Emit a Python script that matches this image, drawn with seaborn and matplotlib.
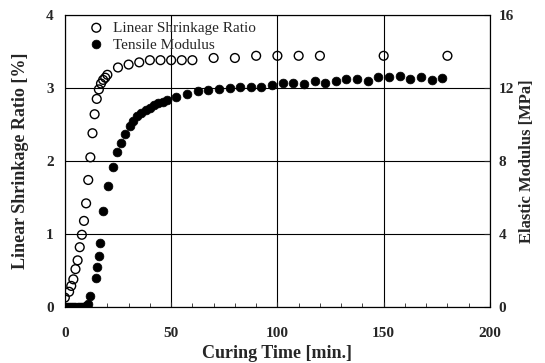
import matplotlib.pyplot as plt
import seaborn as sns
import numpy as np
import pandas as pd
from matplotlib.ticker import MultipleLocator

# linear shrinkage ratio [%] (left axis)
shrink_time = [0, 2, 3, 4, 5, 6, 7, 8, 9, 10, 11, 12, 13, 14, 15, 16, 17, 18, 19, 20,
               25, 30, 35, 40, 45, 50, 55, 60, 70, 80, 90, 100, 110, 120, 150, 180]
shrink_ratio = [0.13, 0.21, 0.29, 0.38, 0.52, 0.64, 0.82, 0.99, 1.18, 1.42, 1.74, 2.05,
                2.38, 2.64, 2.85, 2.98, 3.06, 3.11, 3.14, 3.18,
                3.28, 3.32, 3.35, 3.38, 3.38, 3.38, 3.38, 3.38, 3.41, 3.41, 3.44, 3.44,
                3.44, 3.44, 3.44, 3.44]

# tensile modulus [MPa] (right axis)
mod_time = [0, 1, 2, 3, 4, 5, 6, 7, 8, 9, 10, 11, 12,
            14.5, 15, 16, 16.5, 18, 20.5, 22.5, 24.5, 26.5, 28.5, 30.5, 32, 34, 36, 38,
            40, 42, 44, 46, 48,
            52.5, 57.5, 62.5, 67.5, 72.5, 77.5, 82.5, 87.5, 92.5, 97.5, 102.5, 107.5,
            112.5, 117.5, 122.5, 127.5, 132.5, 137.5, 142.5, 147.5, 152.5, 157.5,
            162.5, 167.5, 172.5, 177.5]
mod_value = [0, 0, 0, 0, 0, 0, 0, 0, 0, 0.02, 0.05, 0.15, 0.6,
             1.6, 2.2, 2.8, 3.5, 5.26, 6.63, 7.69, 8.5, 9.0, 9.5, 9.9, 10.2, 10.47,
             10.65, 10.8, 10.9, 11.05, 11.16, 11.25, 11.34,
             11.52, 11.65, 11.85, 11.9, 11.95, 11.98, 12.04, 12.04, 12.04, 12.16,
             12.29, 12.29, 12.2, 12.4, 12.26, 12.38, 12.48, 12.48, 12.4, 12.62,
             12.59, 12.67, 12.48, 12.62, 12.44, 12.56]

df_s = pd.DataFrame({"t": shrink_time, "v": shrink_ratio})
df_m = pd.DataFrame({"t": mod_time, "v": mod_value})

sns.set_style("ticks")
plt.rcParams["font.family"] = ["Liberation Serif", "DejaVu Serif"]

fig = plt.figure(figsize=(5.45, 3.63), dpi=100)
ax = fig.add_axes([0.119, 0.154, 0.780, 0.805])
ax2 = ax.twinx()

sns.scatterplot(data=df_s, x="t", y="v", ax=ax, s=40, marker="o",
                facecolor="none", edgecolor="black", linewidth=1.0,
                label="Linear Shrinkage Ratio", legend=False, zorder=3)
sns.scatterplot(data=df_m, x="t", y="v", ax=ax2, s=40, marker="o",
                color="black", edgecolor="black", linewidth=0.5,
                label="Tensile Modulus", legend=False, zorder=3)

ax.set_xlim(0, 200)
ax.set_ylim(0, 4)
ax2.set_ylim(0, 16)
ax.xaxis.set_major_locator(MultipleLocator(50))
ax.xaxis.set_minor_locator(MultipleLocator(10))
ax.yaxis.set_major_locator(MultipleLocator(1))
ax2.yaxis.set_major_locator(MultipleLocator(4))

# grid lines
ax.grid(True, which="major", color="black", linewidth=0.8)
ax.set_axisbelow(True)

for a in (ax, ax2):
    a.tick_params(direction="in", which="both", labelsize=11, pad=8)
    for sp in a.spines.values():
        sp.set_linewidth(0.8)
        sp.set_color("black")
    for lab in a.get_xticklabels() + a.get_yticklabels():
        lab.set_fontweight("bold")
ax.tick_params(axis="x", pad=14)
ax.tick_params(which="minor", length=3)
ax.tick_params(axis="y", length=0, pad=8)
ax2.tick_params(axis="y", length=4, pad=6)

ax.set_xlabel("Curing Time [min.]", fontsize=13, fontweight="bold", labelpad=4)
ax.set_ylabel("Linear Shrinkage Ratio [%]", fontsize=13, fontweight="bold", labelpad=12)
ax2.set_ylabel("Elastic Modulus [MPa]", fontsize=12, fontweight="bold", labelpad=4)

h1, l1 = ax.get_legend_handles_labels()
h2, l2 = ax2.get_legend_handles_labels()
ax2.legend(h1 + h2, l1 + l2, loc="upper left", frameon=False, fontsize=11,
           handletextpad=0.1, borderaxespad=0.1, labelspacing=0.2,
           bbox_to_anchor=(0.02, 1.005))

fig.savefig("out.png", dpi=100)
